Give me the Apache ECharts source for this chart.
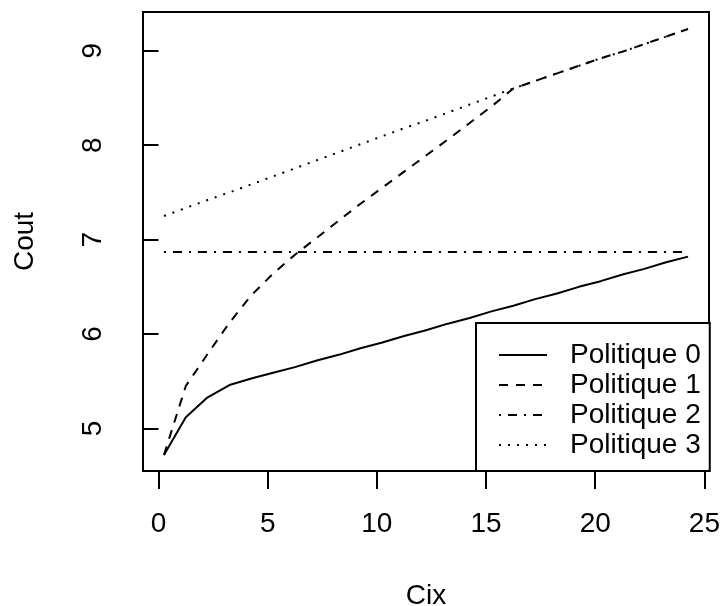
<!DOCTYPE html>
<html>
<head>
<meta charset="utf-8">
<script src="https://cdn.jsdelivr.net/npm/echarts@6/dist/echarts.min.js"></script>
<style>
html,body{margin:0;padding:0;background:#fff;}
#chart{width:721px;height:606px;}
</style>
</head>
<body>
<div id="chart"></div>
<script>
// ---- data ----
const cix = [0.25, 1.25, 2.25, 3.25, 4.25, 5.25, 6.25, 7.25, 8.25, 9.25, 10.25, 11.25, 12.25,
             13.25, 14.25, 15.25, 16.25, 17.25, 18.25, 19.25, 20.25, 21.25, 22.25, 23.25, 24.25];
const politique0 = [4.72, 5.12, 5.33, 5.46, 5.53, 5.59, 5.65, 5.72, 5.78, 5.85, 5.91, 5.98, 6.04,
                    6.11, 6.17, 6.24, 6.30, 6.37, 6.43, 6.50, 6.56, 6.63, 6.69, 6.76, 6.82];
const politique1 = [4.72, 5.45, 5.79, 6.12, 6.41, 6.64, 6.84, 7.02, 7.20, 7.38, 7.55, 7.72, 7.89,
                    8.06, 8.235, 8.41, 8.60, 8.68, 8.76, 8.84, 8.92, 8.99, 9.07, 9.15, 9.23];
const politique2 = [6.87, 6.87, 6.87, 6.87, 6.87, 6.87, 6.87, 6.87, 6.87, 6.87, 6.87, 6.87, 6.87,
                    6.87, 6.87, 6.87, 6.87, 6.87, 6.87, 6.87, 6.87, 6.87, 6.87, 6.87, 6.87];
const politique3 = [7.25, 7.335, 7.42, 7.50, 7.585, 7.67, 7.755, 7.84, 7.925, 8.01, 8.095, 8.18, 8.26,
                    8.345, 8.43, 8.515, 8.60, 8.68, 8.76, 8.84, 8.92, 8.99, 9.07, 9.15, 9.23];
const seriesNames = ['Politique 0', 'Politique 1', 'Politique 2', 'Politique 3'];
const xTicks = [0, 5, 10, 15, 20, 25];
const yTicks = [5, 6, 7, 8, 9];
const xTitle = 'Cix';
const yTitle = 'Cout';

// ---- chart ----
const FONT = '"Liberation Sans", Arial, Helvetica, sans-serif';
const FS = 28;
const pairs = ys => cix.map((x, i) => [x, ys[i]]);
const dashes = ['solid', [9, 8], [2, 7, 9, 7], [2, 7]];
const allSeries = [politique0, politique1, politique2, politique3];

const chart = echarts.init(document.getElementById('chart'), null, {renderer: 'canvas'});
chart.setOption({
  animation: false,
  backgroundColor: '#ffffff',
  textStyle: {fontFamily: FONT, color: '#000'},
  grid: {
    left: 143, right: 12, top: 12, bottom: 135,
    outerBoundsMode: 'none', containLabel: false,
    show: true, borderColor: '#000', borderWidth: 2, backgroundColor: 'transparent'
  },
  xAxis: {
    type: 'value', min: -0.71, max: 25.21,
    name: xTitle, nameLocation: 'middle', nameGap: 111,
    nameTextStyle: {fontSize: FS, color: '#000', fontFamily: FONT},
    axisLine: {show: false},
    axisTick: {show: true, length: 18, customValues: xTicks, lineStyle: {color: '#000', width: 2}},
    axisLabel: {customValues: xTicks, margin: 39, fontSize: FS, color: '#000', fontFamily: FONT},
    splitLine: {show: false}
  },
  yAxis: {
    type: 'value', min: 4.55, max: 9.41,
    name: yTitle, nameLocation: 'middle', nameGap: 104, nameRotate: 90,
    nameTextStyle: {fontSize: FS, color: '#000', fontFamily: FONT},
    axisLine: {show: false},
    axisTick: {show: true, length: 16, customValues: yTicks, lineStyle: {color: '#000', width: 2}},
    axisLabel: {customValues: yTicks, rotate: 90, margin: 36, fontSize: FS, color: '#000', fontFamily: FONT},
    splitLine: {show: false}
  },
  legend: {
    orient: 'vertical', left: 476, top: 323,
    padding: [17, 9, 11, 22],
    borderColor: '#000', borderWidth: 2, backgroundColor: '#fff',
    itemGap: 0, itemWidth: 48, itemHeight: 14,
    itemStyle: {opacity: 0},
    textStyle: {fontSize: FS, lineHeight: 30, color: '#000', fontFamily: FONT, padding: [0, 0, 0, 18]},
    data: seriesNames
  },
  series: allSeries.map((ys, i) => ({
    name: seriesNames[i],
    type: 'line',
    data: pairs(ys),
    symbol: 'none',
    showSymbol: false,
    smooth: false,
    silent: true,
    lineStyle: {color: '#000', width: 2, type: dashes[i], cap: 'butt'},
    itemStyle: {color: '#000'},
    z: 2
  }))
});
</script>
</body>
</html>
